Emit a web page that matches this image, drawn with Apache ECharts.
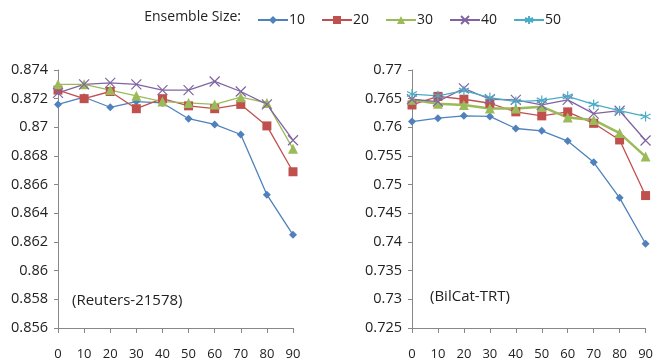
<!DOCTYPE html>
<html>
<head>
<meta charset="utf-8">
<script src="https://cdn.jsdelivr.net/npm/echarts@6/dist/echarts.min.js"></script>
<style>
  html, body { margin: 0; padding: 0; background: #fff; }
  #main { width: 656px; height: 363px; }
</style>
</head>
<body>
<div id="main"></div>
<script>
// ensemble sizes and x positions
var sizes = ['10', '20', '30', '40', '50'];
var xVals = [0, 10, 20, 30, 40, 50, 60, 70, 80, 90];

// Reuters-21578 (left)
var reut10 = [0.8716, 0.8721, 0.8714, 0.8718, 0.8717, 0.8706, 0.8702, 0.8695, 0.8653, 0.8625];
var reut20 = [0.8726, 0.8720, 0.8725, 0.8713, 0.8720, 0.8715, 0.8713, 0.8716, 0.8701, 0.8669];
var reut30 = [0.8730, 0.8730, 0.8726, 0.8722, 0.8718, 0.8717, 0.8716, 0.8721, 0.8717, 0.8685];
var reut40 = [0.8724, 0.8730, 0.8731, 0.8730, 0.8726, 0.8726, 0.8732, 0.8725, 0.8716, 0.8691];

// BilCat-TRT (right)
var bil10 = [0.7610, 0.7616, 0.7620, 0.7619, 0.7598, 0.7594, 0.7576, 0.7539, 0.7477, 0.7397];
var bil20 = [0.7639, 0.7654, 0.7649, 0.7642, 0.7627, 0.7620, 0.7627, 0.7607, 0.7578, 0.7481];
var bil30 = [0.7648, 0.7641, 0.7639, 0.7633, 0.7633, 0.7636, 0.7617, 0.7613, 0.7590, 0.7549];
var bil40 = [0.7649, 0.7645, 0.7668, 0.7649, 0.7648, 0.7639, 0.7648, 0.7624, 0.7629, 0.7577];
var bil50 = [0.7658, 0.7655, 0.7664, 0.7652, 0.7645, 0.7647, 0.7654, 0.7640, 0.7629, 0.7619];

var colors = ['#4F81BD', '#C0504D', '#9BBB59', '#8064A2', '#4BACC6'];
var symbols = [
  'diamond',
  'rect',
  'triangle',
  'path://M0,0L10,10M10,0L0,10',
  'path://M5,0L5,10M0,2.5L10,7.5M0,7.5L10,2.5'
];
var symSizes = [8, 9, 10, 10, 10];

function pairs(arr) {
  var out = [];
  for (var i = 0; i < arr.length; i++) {
    out.push([xVals[i], arr[i]]);
  }
  return out;
}

function mkSeries(idx, arr, axis, lw) {
  return {
    name: sizes[idx],
    type: 'line',
    xAxisIndex: axis,
    yAxisIndex: axis,
    data: pairs(arr),
    symbol: symbols[idx],
    symbolSize: symSizes[idx],
    showSymbol: true,
    lineStyle: { color: colors[idx], width: lw || 1.3 },
    itemStyle: { color: colors[idx], borderColor: colors[idx], borderWidth: idx >= 3 ? 1.2 : 0 },
    emphasis: { disabled: true },
    animation: false
  };
}

function fmt(v) {
  return String(parseFloat(v.toFixed(3)));
}

function xAx(gi) {
  return {
    type: 'value', gridIndex: gi, min: 0, max: 90, interval: 10,
    axisLine: { lineStyle: { color: '#888' } },
    axisTick: { show: true, length: 5, lineStyle: { color: '#888' } },
    axisLabel: { margin: 20, fontFamily: 'Open Sans', fontSize: 13, color: '#222' },
    splitLine: { show: false }
  };
}

function yAx(gi, mn, mx, step) {
  return {
    type: 'value', gridIndex: gi, min: mn, max: mx, interval: step,
    axisLine: { show: true, lineStyle: { color: '#888' } },
    axisTick: { show: true, length: 4, lineStyle: { color: '#888' } },
    axisLabel: { margin: 10, formatter: fmt, fontFamily: 'Open Sans', fontSize: 14.5, color: '#222' },
    splitLine: { show: false }
  };
}

var chart = echarts.init(document.getElementById('main'));
chart.setOption({
  backgroundColor: '#fff',
  animation: false,
  legend: {
    data: sizes,
    left: 252, top: 8,
    itemWidth: 30, itemHeight: 10, itemGap: 16,
    textStyle: { fontFamily: 'Open Sans', fontSize: 14, color: '#222', padding: [0, 0, 0, -4] }
  },
  grid: [
    { left: 58, top: 70, width: 235, height: 258 },
    { left: 412, top: 70, width: 237, height: 258 }
  ],
  xAxis: [xAx(0), xAx(1)],
  yAxis: [yAx(0, 0.856, 0.874, 0.002), yAx(1, 0.725, 0.77, 0.005)],
  graphic: [
    { type: 'text', x: 241, y: 17, style: { text: 'Ensemble Size:', font: '14px "Open Sans"', fill: '#222', align: 'right', verticalAlign: 'middle' } },
    { type: 'text', left: 72, top: 293, style: { text: '(Reuters-21578)', font: '15px "Open Sans"', fill: '#222' } },
    { type: 'text', left: 430, top: 289, style: { text: '(BilCat-TRT)', font: '15px "Open Sans"', fill: '#222' } }
  ],
  series: [
    mkSeries(0, reut10, 0), mkSeries(1, reut20, 0), mkSeries(2, reut30, 0), mkSeries(3, reut40, 0),
    mkSeries(0, bil10, 1), mkSeries(1, bil20, 1), mkSeries(2, bil30, 1, 2.5), mkSeries(3, bil40, 1), mkSeries(4, bil50, 1)
  ]
});
</script>
</body>
</html>
